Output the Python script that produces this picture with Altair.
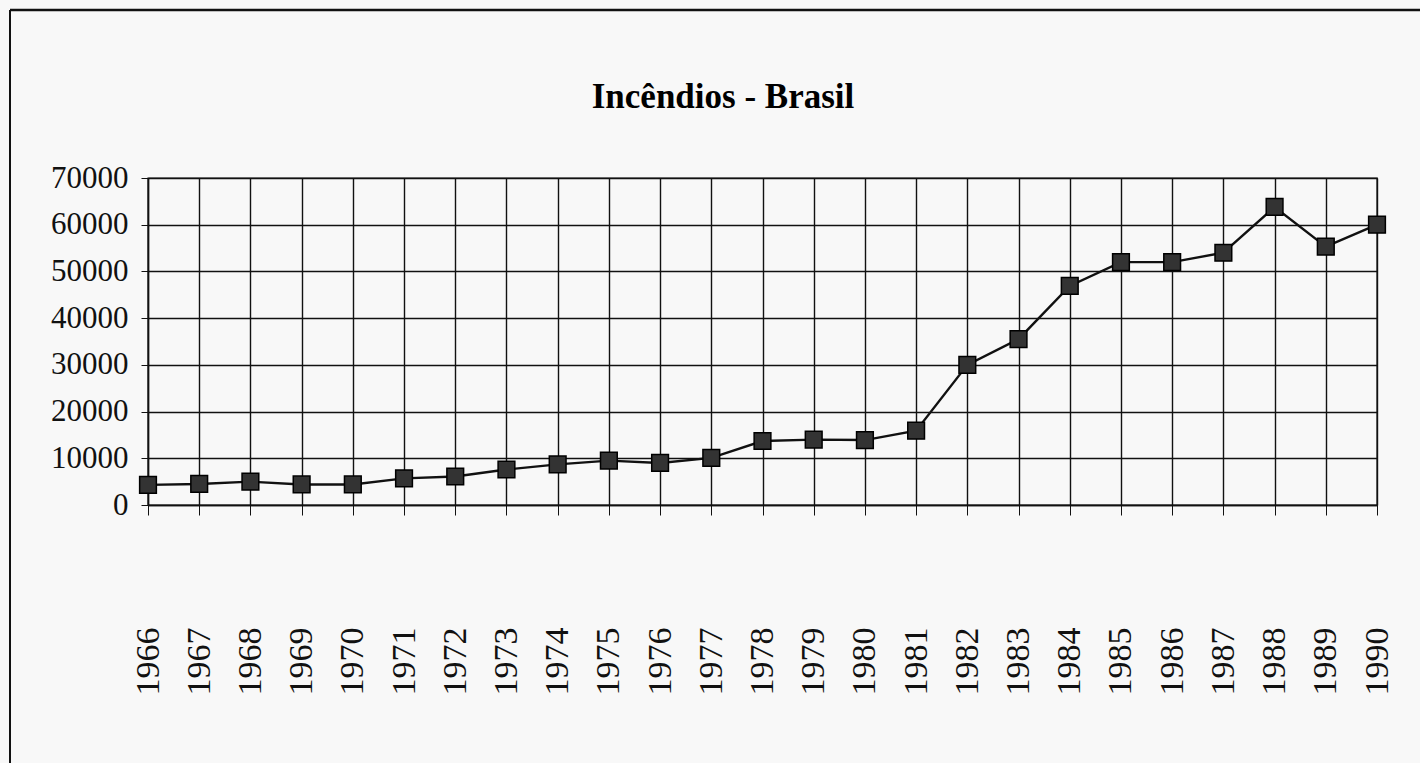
import altair as alt
import pandas as pd

titulo = "Incêndios - Brasil"
years = [str(y) for y in range(1966, 1991)]
incendios = [4300, 4500, 5000, 4400, 4400, 5700, 6100, 7600, 8700, 9500, 9000,
             10100, 13700, 14000, 13900, 15900, 30000, 35500, 46900, 52000,
             52000, 54000, 63800, 55300, 60000]

df = pd.DataFrame({"ano": years, "valor": incendios})
one = pd.DataFrame({"t": [titulo]})

W, H = 1229, 327
PAD_L, PAD_T = 148, 178
PAD_R, PAD_B = 1420 - PAD_L - W, 763 - PAD_T - H

x = alt.X("ano:O", scale=alt.Scale(type="point", padding=0),
          axis=alt.Axis(title=None, labelAngle=270, labelAlign="right",
                        labelBaseline="middle", labelPadding=112,
                        labelFont="Liberation Serif", labelFontSize=34,
                        labelColor="#111", tickSize=10, tickColor="#111",
                        grid=True, gridColor="#111", gridWidth=1.4,
                        domainColor="#111", domainWidth=1.4))
y = alt.Y("valor:Q", scale=alt.Scale(domain=[0, 70000]),
          axis=alt.Axis(title=None, values=list(range(0, 70001, 10000)),
                        format="d", labelFont="Liberation Serif",
                        labelFontSize=31, labelColor="#111", labelPadding=13,
                        tickSize=7, tickColor="#111", grid=True,
                        gridColor="#111", gridWidth=1.4,
                        domainColor="#111", domainWidth=1.4))

base = alt.Chart(df)
line = base.mark_line(color="#111", strokeWidth=2.4).encode(x=x, y=y)
pts = base.mark_point(shape="square", filled=True, size=280, color="#333",
                      stroke="#000", strokeWidth=1.5, opacity=1).encode(x=x, y=y)

deco = alt.Chart(one)
frame_top = deco.mark_rule(color="#111", strokeWidth=2.5).encode(
    x=alt.value(10 - PAD_L), x2=alt.value(1420 - PAD_L), y=alt.value(10 - PAD_T))
frame_left = deco.mark_rule(color="#111", strokeWidth=2).encode(
    x=alt.value(10 - PAD_L), y=alt.value(10 - PAD_T), y2=alt.value(763 - PAD_T))
title = deco.mark_text(font="Liberation Serif", fontSize=35, fontWeight="bold",
                       color="#000", align="center", baseline="alphabetic").encode(
    text="t:N", x=alt.value(723 - PAD_L), y=alt.value(108 - PAD_T))

chart = alt.layer(frame_top, frame_left, title, line, pts).properties(
    width=W, height=H,
    autosize=alt.AutoSizeParams(type="none"),
    padding={"left": PAD_L, "top": PAD_T, "right": PAD_R, "bottom": PAD_B},
    background="#f8f8f8",
).configure_view(stroke="#111", strokeWidth=1.4)

chart.save("out.html", embed_options={"renderer": "svg", "actions": False})
